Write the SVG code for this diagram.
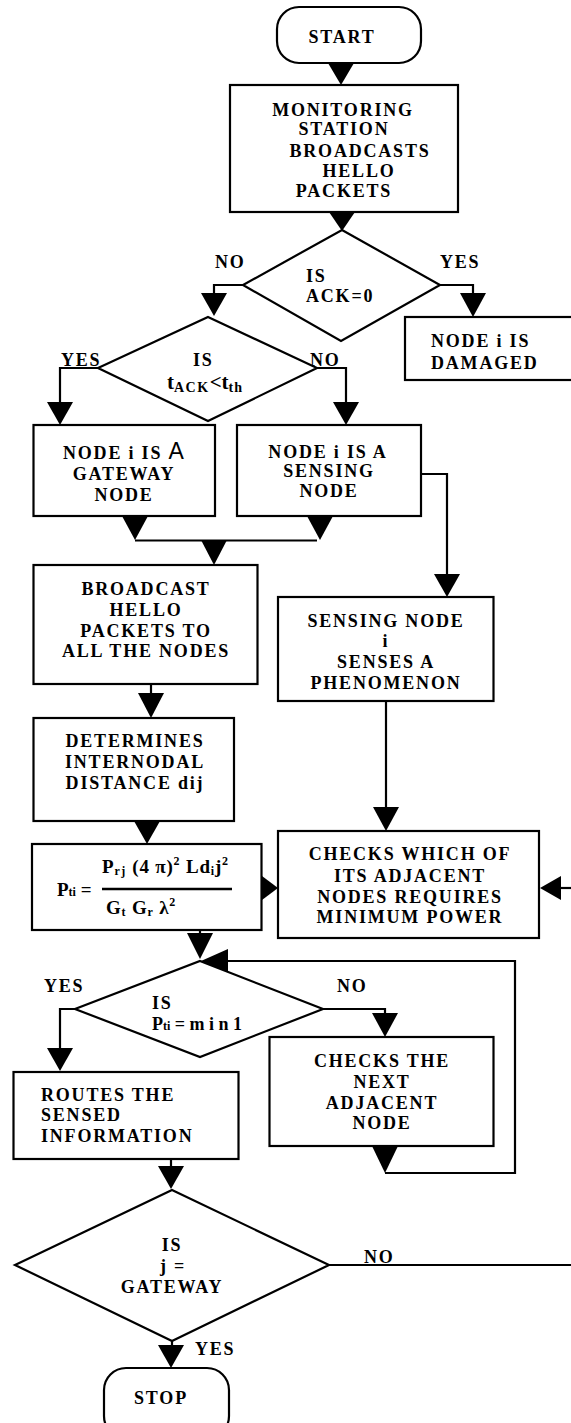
<svg xmlns="http://www.w3.org/2000/svg" width="571" height="1423" viewBox="0 0 571 1423">
<style>
.bx{fill:#fff;stroke:#000;stroke-width:2.2}
.ln{fill:none;stroke:#000;stroke-width:2.2}
.ah{fill:#000;stroke:none}
.t{font-family:"Liberation Serif",serif;font-weight:bold;font-size:18px;letter-spacing:1.8px;fill:#000}
.m{text-anchor:middle}
.f{font-family:"Liberation Serif",serif;font-weight:bold;font-size:19px;fill:#000}
.s{font-size:12px}
</style>
<rect width="571" height="1423" fill="#fff"/>
<g id="connectors">
  <polygon class="ah" points="328,63 354,63 341,85"/>
  <polygon class="ah" points="329,212 355,212 342,231"/>
  <polyline class="ln" points="243,285 214,285 214,295"/>
  <polygon class="ah" points="201,293 227,293 214,316"/>
  <polyline class="ln" points="440,285 473,285 473,295"/>
  <polygon class="ah" points="460,293 486,293 473,317"/>
  <polyline class="ln" points="98,368 60,368 60,404"/>
  <polygon class="ah" points="47,402 73,402 60,425"/>
  <polyline class="ln" points="317,368 346,368 346,404"/>
  <polygon class="ah" points="333,402 359,402 346,425"/>
  <polygon class="ah" points="122,516 148,516 135,540"/>
  <polygon class="ah" points="307,516 333,516 320,540"/>
  <line class="ln" x1="135" y1="540.5" x2="317" y2="540.5"/>
  <polygon class="ah" points="201,540 227,540 214,565"/>
  <polyline class="ln" points="421,474 447,474 447,576"/>
  <polygon class="ah" points="434,574 460,574 447,597"/>
  <line class="ln" x1="151" y1="684" x2="151" y2="695"/>
  <polygon class="ah" points="138,693 164,693 151,718"/>
  <line class="ln" x1="386" y1="701" x2="386" y2="809"/>
  <polygon class="ah" points="373,807 399,807 386,831"/>
  <polygon class="ah" points="134,821 160,821 147,844"/>
  <polygon class="ah" points="262,876 262,900 278,888"/>
  <polygon class="ah" points="540,888 561,876 561,900"/>
  <line class="ln" x1="560" y1="888" x2="571" y2="888"/>
  <line class="ln" x1="200" y1="930" x2="200" y2="935"/>
  <polygon class="ah" points="187,933 213,933 200,959"/>
  <polyline class="ln" points="385,1173 515,1173 515,961 226,961"/>
  <polygon class="ah" points="201,961 228,949 228,972"/>
  <polyline class="ln" points="75,1009 60,1009 60,1050"/>
  <polygon class="ah" points="47,1048 73,1048 60,1071"/>
  <polyline class="ln" points="323,1009 385,1009 385,1015"/>
  <polygon class="ah" points="372,1013 398,1013 385,1037"/>
  <polygon class="ah" points="372,1146 398,1146 385,1173"/>
  <line class="ln" x1="171" y1="1159" x2="171" y2="1168"/>
  <polygon class="ah" points="158,1166 184,1166 171,1189"/>
  <line class="ln" x1="329" y1="1265" x2="571" y2="1265"/>
  <line class="ln" x1="172" y1="1341" x2="172" y2="1347"/>
  <polygon class="ah" points="158,1345 184,1345 171,1368"/>
  <text class="t" x="215" y="268">NO</text>
  <text class="t" x="440" y="268">YES</text>
  <text class="t" x="61" y="366">YES</text>
  <text class="t" x="310" y="366">NO</text>
  <text class="t" x="44" y="992">YES</text>
  <text class="t" x="337" y="992">NO</text>
  <text class="t" x="364" y="1263">NO</text>
  <text class="t" x="195" y="1355">YES</text>
</g>
<g id="start">
  <rect class="bx" x="277" y="7" width="144" height="56" rx="22"/>
  <text class="t m" x="342" y="43">START</text>
</g>
<g id="monitoring">
  <rect class="bx" x="230" y="85" width="228" height="127"/>
  <text class="t m" x="343" y="116">MONITORING</text>
  <text class="t m" x="344" y="135">STATION</text>
  <text class="t m" x="360" y="157">BROADCASTS</text>
  <text class="t m" x="359" y="177">HELLO</text>
  <text class="t m" x="344" y="197">PACKETS</text>
</g>
<g id="ack">
  <polygon class="bx" points="342,230 440,285 341,341 243,285"/>
  <text class="t" x="306" y="282">IS</text>
  <text class="t" x="306" y="302">ACK=0</text>
</g>
<g id="damaged">
  <rect class="bx" x="405" y="317" width="180" height="63"/>
  <text class="t" x="431" y="347">NODE i IS</text>
  <text class="t" x="431" y="369">DAMAGED</text>
</g>
<g id="tack">
  <polygon class="bx" points="208,317 317,368 208,421 98,368"/>
  <text class="t" x="193" y="366">IS</text>
  <text class="f" x="167" y="389" style="font-size:21px">t<tspan style="font-size:14px;letter-spacing:1.5px" dy="3">ACK</tspan><tspan dy="-3">&lt;t</tspan><tspan style="font-size:14px;letter-spacing:1px" dy="3">th</tspan></text>
</g>
<g id="gateway">
  <rect class="bx" x="33.5" y="425" width="181.5" height="91"/>
  <text class="t" x="63" y="459">NODE i IS <tspan style="font-family:'Liberation Sans',sans-serif;font-weight:normal;font-size:23px">A</tspan></text>
  <text class="t m" x="124" y="480">GATEWAY</text>
  <text class="t m" x="124" y="501">NODE</text>
</g>
<g id="sensing">
  <rect class="bx" x="237" y="425" width="184" height="91"/>
  <text class="t m" x="328" y="458">NODE i IS A</text>
  <text class="t m" x="329" y="477">SENSING</text>
  <text class="t m" x="329" y="497">NODE</text>
</g>
<g id="broadcast">
  <rect class="bx" x="33.5" y="565" width="224" height="119"/>
  <text class="t m" x="146" y="595">BROADCAST</text>
  <text class="t m" x="146" y="616">HELLO</text>
  <text class="t m" x="146" y="637">PACKETS TO</text>
  <text class="t m" x="146" y="657">ALL THE NODES</text>
</g>
<g id="senses">
  <rect class="bx" x="278" y="597" width="215.5" height="104"/>
  <text class="t m" x="386" y="627">SENSING NODE</text>
  <text class="t m" x="386" y="647">i</text>
  <text class="t m" x="386" y="668">SENSES A</text>
  <text class="t m" x="386" y="689">PHENOMENON</text>
</g>
<g id="determines">
  <rect class="bx" x="33.5" y="718" width="200.5" height="103"/>
  <text class="t m" x="135" y="747">DETERMINES</text>
  <text class="t m" x="135" y="768">INTERNODAL</text>
  <text class="t m" x="135" y="789">DISTANCE dij</text>
</g>
<g id="formula">
  <rect class="bx" x="32" y="844" width="229.5" height="86"/>
  <text class="f" x="57" y="896">P<tspan class="s">ti</tspan> =</text>
  <line class="ln" x1="102" y1="889" x2="232" y2="889" style="stroke-width:2.5"/>
  <text class="f" x="102" y="873" style="letter-spacing:0.8px">P<tspan class="s" dy="2" style="letter-spacing:1.5px">rj</tspan><tspan dy="-2"> (4 π)</tspan><tspan class="s" dy="-8">2</tspan><tspan dy="8"> Ld</tspan><tspan class="s" dy="2">i</tspan><tspan dy="-2">j</tspan><tspan class="s" dy="-8">2</tspan></text>
  <text class="f" x="106" y="914" style="letter-spacing:0.8px">G<tspan class="s" dy="2">t</tspan><tspan dy="-2"> G</tspan><tspan class="s" dy="2">r</tspan><tspan dy="-2">   λ</tspan><tspan class="s" dy="-8">2</tspan></text>
</g>
<g id="checks">
  <rect class="bx" x="278" y="831" width="261" height="107"/>
  <text class="t m" x="410" y="860">CHECKS WHICH OF</text>
  <text class="t m" x="410" y="882">ITS ADJACENT</text>
  <text class="t m" x="410" y="903">NODES REQUIRES</text>
  <text class="t m" x="410" y="923">MINIMUM POWER</text>
</g>
<g id="min">
  <polygon class="bx" points="200,961 323,1009 200,1057 75,1009"/>
  <text class="t" x="152" y="1009">IS</text>
  <text class="f" x="152" y="1030" style="font-size:18px">P<tspan class="s">ti</tspan> = m i n 1</text>
</g>
<g id="next">
  <rect class="bx" x="269.5" y="1037" width="224" height="109"/>
  <text class="t m" x="382" y="1067">CHECKS THE</text>
  <text class="t m" x="382" y="1088">NEXT</text>
  <text class="t m" x="382" y="1109">ADJACENT</text>
  <text class="t m" x="382" y="1129">NODE</text>
</g>
<g id="routes">
  <rect class="bx" x="13.5" y="1072" width="225" height="87"/>
  <text class="t" x="41" y="1101">ROUTES THE</text>
  <text class="t" x="41" y="1121">SENSED</text>
  <text class="t" x="41" y="1142">INFORMATION</text>
</g>
<g id="gatewayq">
  <polygon class="bx" points="172,1190 329,1265 172,1341 15,1265"/>
  <text class="t m" x="172" y="1251">IS</text>
  <text class="t m" x="173" y="1272">j =</text>
  <text class="t m" x="172" y="1293">GATEWAY</text>
</g>
<g id="stop">
  <rect class="bx" x="104" y="1368" width="125" height="70" rx="22"/>
  <text class="t m" x="161" y="1404">STOP</text>
</g>
</svg>
